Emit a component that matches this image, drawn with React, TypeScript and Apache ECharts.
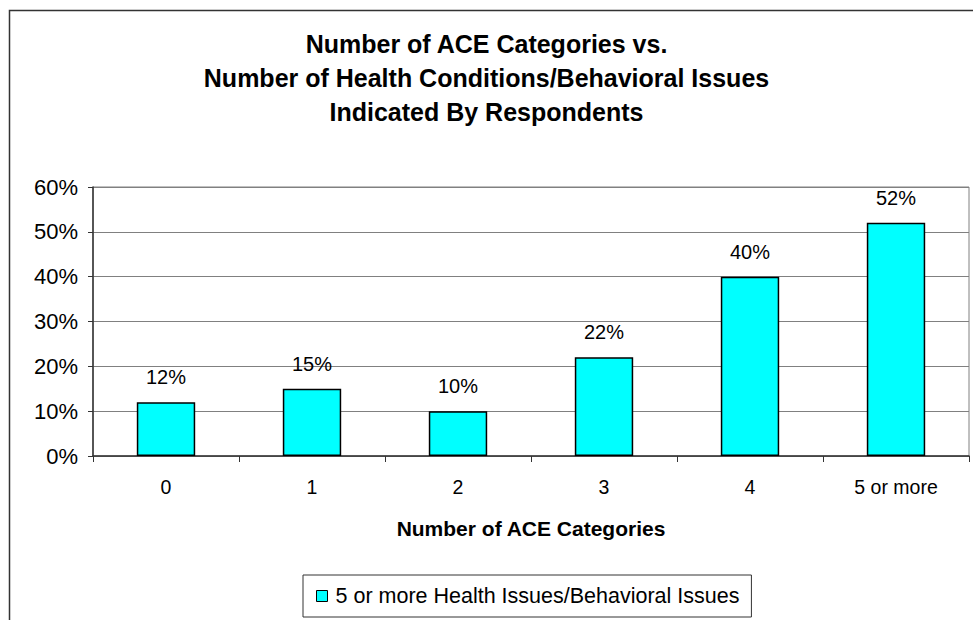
import React, { useEffect, useRef } from "react";
import * as echarts from "echarts";

const titleLines = [
  "Number of ACE Categories vs.",
  "Number of Health Conditions/Behavioral Issues",
  "Indicated By Respondents",
];
const categories = ["0", "1", "2", "3", "4", "5 or more"];
const seriesName = "5 or more Health Issues/Behavioral Issues";
const values = [12, 15, 10, 22, 40, 52];
const xAxisName = "Number of ACE Categories";

export default function App() {
  const ref = useRef<HTMLDivElement>(null);
  useEffect(() => {
    const chart = echarts.init(ref.current!, null, { renderer: "svg" });
    const font = "Arial, 'Liberation Sans', sans-serif";
    chart.setOption({
      animation: false,
      backgroundColor: "#ffffff",
      textStyle: { fontFamily: font },
      title: {
        text: titleLines.join("\n"),
        left: "center",
        top: 27,
        padding: 0,
        textStyle: {
          fontFamily: font,
          fontSize: 25,
          fontWeight: "bold",
          color: "#000",
          lineHeight: 34,
        },
      },
      graphic: [
        {
          type: "rect",
          shape: { x: 9.5, y: 10.5, width: 1100, height: 800 },
          style: { fill: "none", stroke: "#333", lineWidth: 1.5 },
          silent: true,
          z: 100,
        },
      ],
      grid: {
        left: 93,
        right: 4,
        top: 187,
        bottom: 164,
        show: true,
        borderColor: "#808080",
        borderWidth: 1,
        backgroundColor: "transparent",
      },
      legend: {
        data: [seriesName],
        left: 303,
        top: 575,
        padding: [10, 12, 10, 13],
        borderColor: "#333",
        borderWidth: 1,
        icon: "rect",
        itemWidth: 11,
        itemHeight: 11,
        itemGap: 8,
        itemStyle: { borderColor: "#000", borderWidth: 1 },
        textStyle: { fontFamily: font, fontSize: 21.5, color: "#000", padding: [0, 0, 0, 3] },
      },
      xAxis: {
        type: "category",
        data: categories,
        name: xAxisName,
        nameLocation: "middle",
        nameGap: 62,
        nameTextStyle: {
          fontFamily: font,
          fontSize: 21,
          fontWeight: "bold",
          color: "#000",
        },
        axisLine: { lineStyle: { color: "#333", width: 1.5 } },
        axisTick: { show: true, length: 6, lineStyle: { color: "#333" } },
        axisLabel: { fontSize: 19.5, color: "#000", margin: 21, fontFamily: font },
      },
      yAxis: {
        type: "value",
        min: 0,
        max: 60,
        interval: 10,
        axisLine: { show: true, lineStyle: { color: "#333", width: 1.5 } },
        axisTick: { show: true, length: 5, lineStyle: { color: "#333" } },
        axisLabel: {
          formatter: "{value}%",
          fontSize: 22,
          color: "#000",
          margin: 15,
          fontFamily: font,
        },
        splitLine: { lineStyle: { color: "#808080", width: 1 } },
      },
      series: [
        {
          name: seriesName,
          type: "bar",
          data: values,
          barWidth: "40%",
          itemStyle: { color: "#00FFFF", borderColor: "#000", borderWidth: 1.5 },
          label: {
            show: true,
            position: "top",
            distance: 15,
            formatter: "{c}%",
            fontSize: 20,
            color: "#000",
            fontFamily: font,
          },
        },
      ],
    });
    return () => chart.dispose();
  }, []);
  return (
    <div
      ref={ref}
      style={{ position: "fixed", left: 0, top: 0, width: 973, height: 620 }}
    />
  );
}
